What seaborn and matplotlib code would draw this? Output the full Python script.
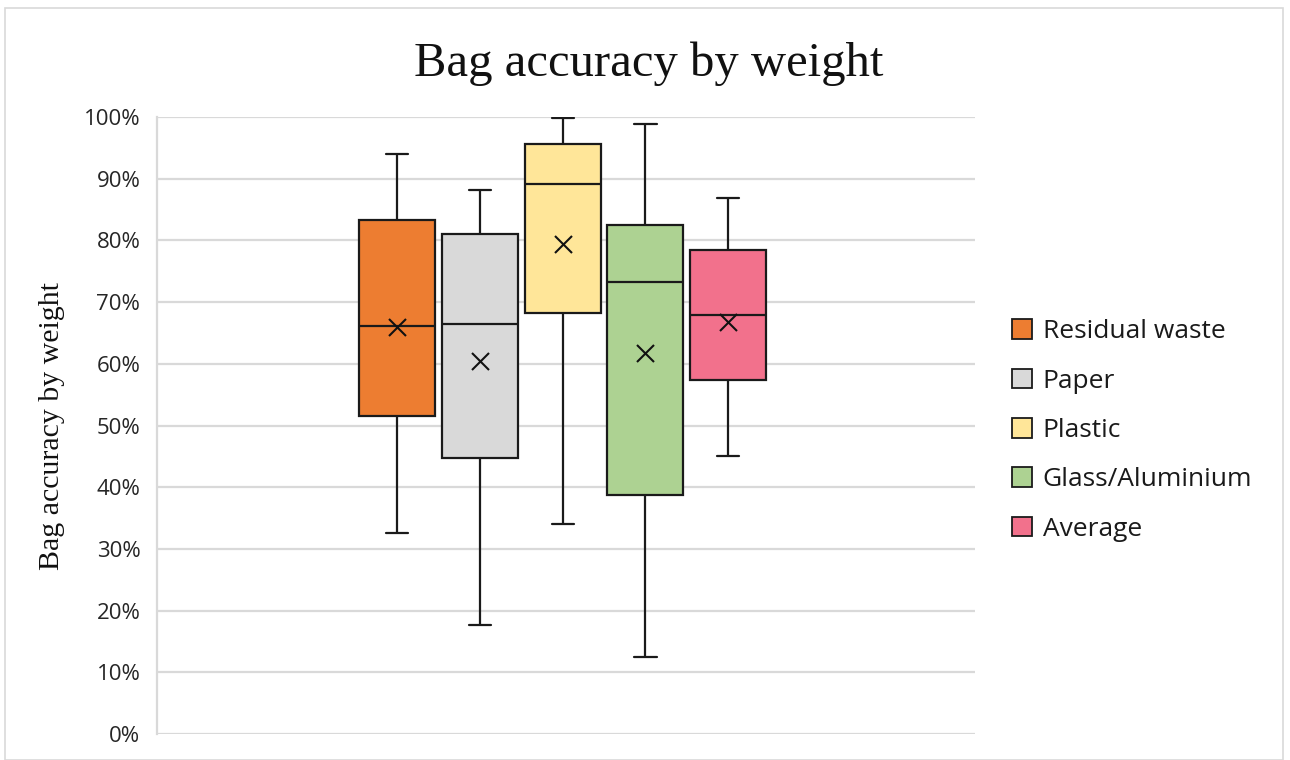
import numpy as np
import pandas as pd
import matplotlib
matplotlib.use("Agg")
import matplotlib.pyplot as plt
from matplotlib.patches import Patch, Rectangle
from matplotlib.ticker import PercentFormatter
import seaborn as sns

# Five-number summaries per bag type (share of correctly sorted weight, %)
categories = ["Residual waste", "Paper", "Plastic", "Glass/Aluminium", "Average"]
whisker_low = [32.6, 17.7, 34.0, 12.5, 45.1]
quartile_1 = [51.6, 44.8, 68.3, 38.8, 57.3]
medians = [66.1, 66.4, 89.1, 73.3, 67.9]
quartile_3 = [83.3, 81.1, 95.6, 82.5, 78.4]
whisker_high = [94.0, 88.1, 99.9, 98.9, 86.8]
means = [65.9, 60.4, 79.4, 61.8, 66.8]
colors = ["#ED7D31", "#D9D9D9", "#FFE699", "#ADD292", "#F2718C"]
y_ticks = list(range(0, 101, 10))

# Long table: each summary point as a row, so quartiles fall on the given values
rows = []
for cat, lo, q1, med, q3, hi in zip(categories, whisker_low, quartile_1,
                                     medians, quartile_3, whisker_high):
    for v in (lo, q1, med, q3, hi):
        rows.append({"Bag": cat, "Accuracy": v})
df = pd.DataFrame(rows)

sns.set_theme(style="white")
plt.rcParams["font.family"] = ["Open Sans", "DejaVu Sans"]

fig = plt.figure(figsize=(12.9, 7.6), dpi=100)
ax = fig.add_axes([157 / 1290, 26 / 760, 818 / 1290, 617 / 760])

line_kw = dict(color="#1a1a1a", linewidth=1.6)
sns.boxplot(
    data=df, x="Bag", y="Accuracy", hue="Bag", order=categories,
    hue_order=categories, palette=colors, width=0.918, whis=np.inf,
    dodge=False, legend=False, ax=ax, saturation=1,
    linecolor="#1a1a1a", linewidth=1.6,
    boxprops=dict(edgecolor="#1a1a1a", linewidth=1.6),
    medianprops=line_kw, whiskerprops=line_kw, capprops=line_kw,
    capwidths=0.27,
)

# Mean markers
sns.scatterplot(x=categories, y=means, marker="x", color="#111111", s=150,
                linewidth=1.5, ax=ax, zorder=5, legend=False)

ax.set_xlim(-2.9, 6.98)
ax.set_ylim(0, 100)
ax.set_yticks(y_ticks)
ax.yaxis.set_major_formatter(PercentFormatter(decimals=0))
ax.set_xticks([])
ax.set_xlabel("")
ax.tick_params(axis="y", length=0, pad=12, labelsize=16, labelcolor="#262626")
ax.grid(axis="y", color="#D9D9D9", linewidth=1.6)
ax.set_axisbelow(True)
for side in ("top", "right", "bottom"):
    ax.spines[side].set_visible(False)
ax.spines["left"].set_color("#D9D9D9")
ax.spines["left"].set_linewidth(1.6)

ax.set_ylabel("Bag accuracy by weight", family=["Liberation Serif", "DejaVu Serif"],
              fontsize=21.5, color="#111111")
ax.yaxis.set_label_coords(-0.112, 0.5)

fig.suptitle("Bag accuracy by weight", family=["Liberation Serif", "DejaVu Serif"],
             fontsize=35, x=0.503, y=0.946, color="#111111")

handles = [Patch(facecolor=c, edgecolor="#1a1a1a", linewidth=1.3) for c in colors]
fig.legend(handles, categories, loc="center left",
           bbox_to_anchor=(1001 / 1290, 1 - 430.5 / 760), frameon=False,
           borderaxespad=0, fontsize=19, handlelength=0.76, handleheight=0.76,
           handletextpad=0.42, labelspacing=0.92, labelcolor="#1a1a1a")

# Chart border
fig.patches.append(Rectangle((5 / 1290, 0), 1 - 12 / 1290, 1 - 8 / 760,
                             transform=fig.transFigure, fill=False,
                             edgecolor="#D9D9D9", linewidth=1.2))

fig.savefig("out.png", dpi=100, facecolor="white")
